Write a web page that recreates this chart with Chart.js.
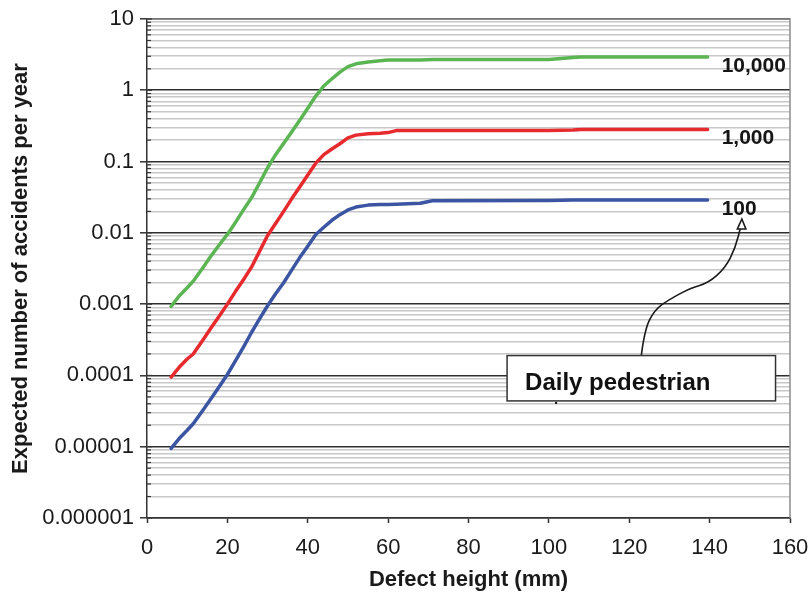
<!DOCTYPE html>
<html>
<head>
<meta charset="utf-8">
<script src="https://cdn.jsdelivr.net/npm/chart.js@4.4.1/dist/chart.umd.min.js"></script>
<style>
  html, body { margin: 0; padding: 0; background: #fff; }
  #wrap { width: 811px; height: 594px; }
</style>
</head>
<body>
<div id="wrap"><canvas id="chart" width="811" height="594"></canvas></div>
<script>
// defect height (mm), shared by the three curves
var defectHeight = [6, 8, 10, 11.5, 14, 16, 18, 20, 22, 24, 26, 28, 30, 32, 34, 36, 38, 40, 42, 44, 46, 48, 50, 52, 55, 58, 60, 62, 68, 71, 100, 106, 108, 139.5];

// expected accidents per year, by daily pedestrians
var daily100 = [0.0000095, 0.000013, 0.000017, 0.000021, 0.000033, 0.000048, 0.00007, 0.000103, 0.00016, 0.00025, 0.0004, 0.00062, 0.00095, 0.0014, 0.002, 0.003, 0.0045, 0.0065, 0.0095, 0.012, 0.015, 0.018, 0.021, 0.023, 0.0245, 0.025, 0.025, 0.0252, 0.026, 0.0282, 0.0285, 0.029, 0.029, 0.029];
var daily1000 = [0.000095, 0.00013, 0.00017, 0.0002, 0.00032, 0.00047, 0.00068, 0.001, 0.0015, 0.0022, 0.0033, 0.0055, 0.0092, 0.0135, 0.02, 0.03, 0.044, 0.065, 0.095, 0.125, 0.15, 0.178, 0.215, 0.235, 0.245, 0.25, 0.255, 0.272, 0.272, 0.272, 0.272, 0.278, 0.282, 0.282];
var daily10000 = [0.00093, 0.0013, 0.0017, 0.0021, 0.0033, 0.0048, 0.0068, 0.0095, 0.014, 0.021, 0.031, 0.05, 0.082, 0.125, 0.18, 0.26, 0.38, 0.56, 0.83, 1.15, 1.45, 1.8, 2.15, 2.35, 2.5, 2.6, 2.65, 2.66, 2.67, 2.7, 2.7, 2.88, 2.92, 2.92];

var seriesNames = ['100', '1,000', '10,000'];
var seriesColors = ['#3b55a3', '#e62a2e', '#5bb553'];

var yDecades = [0.000001, 0.00001, 0.0001, 0.001, 0.01, 0.1, 1, 10];
var yTickLabels = ['0.000001', '0.00001', '0.0001', '0.001', '0.01', '0.1', '1', '10'];
var yMinorSteps = [2, 3, 4, 5, 6, 7, 8, 9];

// note box and arrow, in data units
var noteText = 'Daily pedestrian';
var noteBoxX = [89.6, 156.4];
var noteBoxY = [0.00019, 0.0000439];
var arrowX = [123.0, 123.8, 126.3, 129.8, 135.3, 139.7, 143.9, 146.4, 147.9];
var arrowY = [0.00019, 0.000434, 0.00083, 0.00115, 0.00169, 0.00198, 0.00322, 0.00614, 0.0133];

var FONT = "'Liberation Sans', Arial, sans-serif";

function isDecade(v) { return yDecades.indexOf(v) >= 0; }

function pts(ys) {
  return defectHeight.map(function (x, i) { return { x: x, y: ys[i] }; });
}

var notesPlugin = {
  id: 'notes',
  afterDatasetsDraw: function (chart) {
    var ctx = chart.ctx, xs = chart.scales.x, ys = chart.scales.y, a = chart.chartArea;
    ctx.save();

    // top and right frame
    ctx.strokeStyle = '#8c8c8c';
    ctx.lineWidth = 1.5;
    ctx.beginPath();
    ctx.moveTo(a.left, a.top);
    ctx.lineTo(a.right, a.top);
    ctx.lineTo(a.right, a.bottom);
    ctx.stroke();

    // short inside ticks on the y axis
    ctx.strokeStyle = '#333';
    ctx.lineWidth = 1.2;
    ys.ticks.forEach(function (t) {
      var py = ys.getPixelForValue(t.value);
      ctx.beginPath();
      ctx.moveTo(a.left, py);
      ctx.lineTo(a.left + (isDecade(t.value) ? 5 : 4), py);
      ctx.stroke();
    });

    // curve end labels
    ctx.font = 'bold 21px ' + FONT;
    ctx.fillStyle = '#151515';
    ctx.textAlign = 'left';
    ctx.textBaseline = 'middle';
    [daily100, daily1000, daily10000].forEach(function (s, i) {
      var last = s.length - 1;
      ctx.fillText(seriesNames[i], xs.getPixelForValue(143), ys.getPixelForValue(s[last]) + 9);
    });

    // arrow
    var p = arrowX.map(function (x, i) { return [xs.getPixelForValue(x), ys.getPixelForValue(arrowY[i])]; });
    ctx.strokeStyle = '#1a1a1a';
    ctx.lineWidth = 1.6;
    ctx.beginPath();
    ctx.moveTo(p[0][0], p[0][1]);
    for (var i = 1; i < p.length - 1; i++) {
      var mx = (p[i][0] + p[i + 1][0]) / 2, my = (p[i][1] + p[i + 1][1]) / 2;
      ctx.quadraticCurveTo(p[i][0], p[i][1], mx, my);
    }
    ctx.lineTo(p[p.length - 1][0], p[p.length - 1][1]);
    ctx.stroke();
    var tip = p[p.length - 1];
    ctx.beginPath();
    ctx.moveTo(tip[0] + 0.5, tip[1] - 5);
    ctx.lineTo(tip[0] - 4, tip[1] + 5);
    ctx.lineTo(tip[0] + 4.5, tip[1] + 5);
    ctx.closePath();
    ctx.fillStyle = '#fff';
    ctx.fill();
    ctx.stroke();

    // note box
    var bx0 = xs.getPixelForValue(noteBoxX[0]), bx1 = xs.getPixelForValue(noteBoxX[1]);
    var by0 = ys.getPixelForValue(noteBoxY[0]), by1 = ys.getPixelForValue(noteBoxY[1]);
    ctx.fillStyle = '#fff';
    ctx.fillRect(bx0, by0, bx1 - bx0, by1 - by0);
    ctx.strokeStyle = '#333';
    ctx.lineWidth = 1.5;
    ctx.strokeRect(bx0, by0, bx1 - bx0, by1 - by0);
    ctx.fillStyle = '#111';
    ctx.font = 'bold 24px ' + FONT;
    ctx.textBaseline = 'middle';
    ctx.fillText(noteText, bx0 + 18, by0 + 28);
    ctx.fillRect(bx0 + 48, by1 + 1, 2, 2);

    ctx.restore();
  }
};

new Chart(document.getElementById('chart').getContext('2d'), {
  type: 'line',
  data: {
    datasets: [
      { label: seriesNames[0], data: pts(daily100), borderColor: seriesColors[0] },
      { label: seriesNames[1], data: pts(daily1000), borderColor: seriesColors[1] },
      { label: seriesNames[2], data: pts(daily10000), borderColor: seriesColors[2] }
    ]
  },
  options: {
    responsive: false,
    animation: false,
    devicePixelRatio: 1,
    layout: { padding: { left: 0, right: 21, top: 19, bottom: 0 } },
    elements: {
      line: { borderWidth: 3.5, tension: 0, fill: false, borderCapStyle: 'round', borderJoinStyle: 'round' },
      point: { radius: 0 }
    },
    plugins: {
      legend: { display: false },
      tooltip: { enabled: false }
    },
    scales: {
      x: {
        type: 'linear',
        min: 0,
        max: 160,
        afterFit: function (s) { s.height = 76; s.paddingLeft = 0; s.paddingRight = 0; },
        ticks: { stepSize: 20, padding: 12, color: '#1a1a1a', font: { family: FONT, size: 22 }, maxRotation: 0 },
        grid: { drawOnChartArea: false, drawTicks: true, tickLength: 5, tickColor: '#333', tickWidth: 1.5 },
        border: { color: '#333', width: 1.5 },
        title: { display: true, text: 'Defect height (mm)', color: '#1a1a1a', font: { family: FONT, size: 22, weight: 'bold' }, padding: { top: 0, bottom: 1 } }
      },
      y: {
        type: 'logarithmic',
        min: 0.000001,
        max: 10,
        afterFit: function (s) { s.width = 147; s.paddingTop = 0; s.paddingBottom = 0; },
        afterBuildTicks: function (s) {
          var ticks = [];
          yDecades.forEach(function (d, i) {
            ticks.push({ value: d });
            if (i < yDecades.length - 1) {
              yMinorSteps.forEach(function (m) { ticks.push({ value: +(d * m).toPrecision(3) }); });
            }
          });
          s.ticks = ticks;
        },
        ticks: {
          autoSkip: false,
          padding: 6,
          color: '#1a1a1a',
          font: { family: FONT, size: 22 },
          callback: function (v) {
            var i = yDecades.indexOf(v);
            return i >= 0 ? yTickLabels[i] : '';
          }
        },
        grid: {
          tickLength: 7,
          color: function (c) { return c.tick && isDecade(c.tick.value) ? '#2e2e2e' : '#c8c8c8'; },
          lineWidth: 1.6,
          tickColor: function (c) { return c.tick && isDecade(c.tick.value) ? '#333' : 'rgba(0,0,0,0)'; },
          tickWidth: 1.5
        },
        border: { color: '#333', width: 1.5 },
        title: { display: true, text: 'Expected number of accidents per year', color: '#1a1a1a', font: { family: FONT, size: 22, weight: 'bold' }, padding: { top: 8, bottom: 0 } }
      }
    }
  },
  plugins: [notesPlugin]
});
</script>
</body>
</html>
